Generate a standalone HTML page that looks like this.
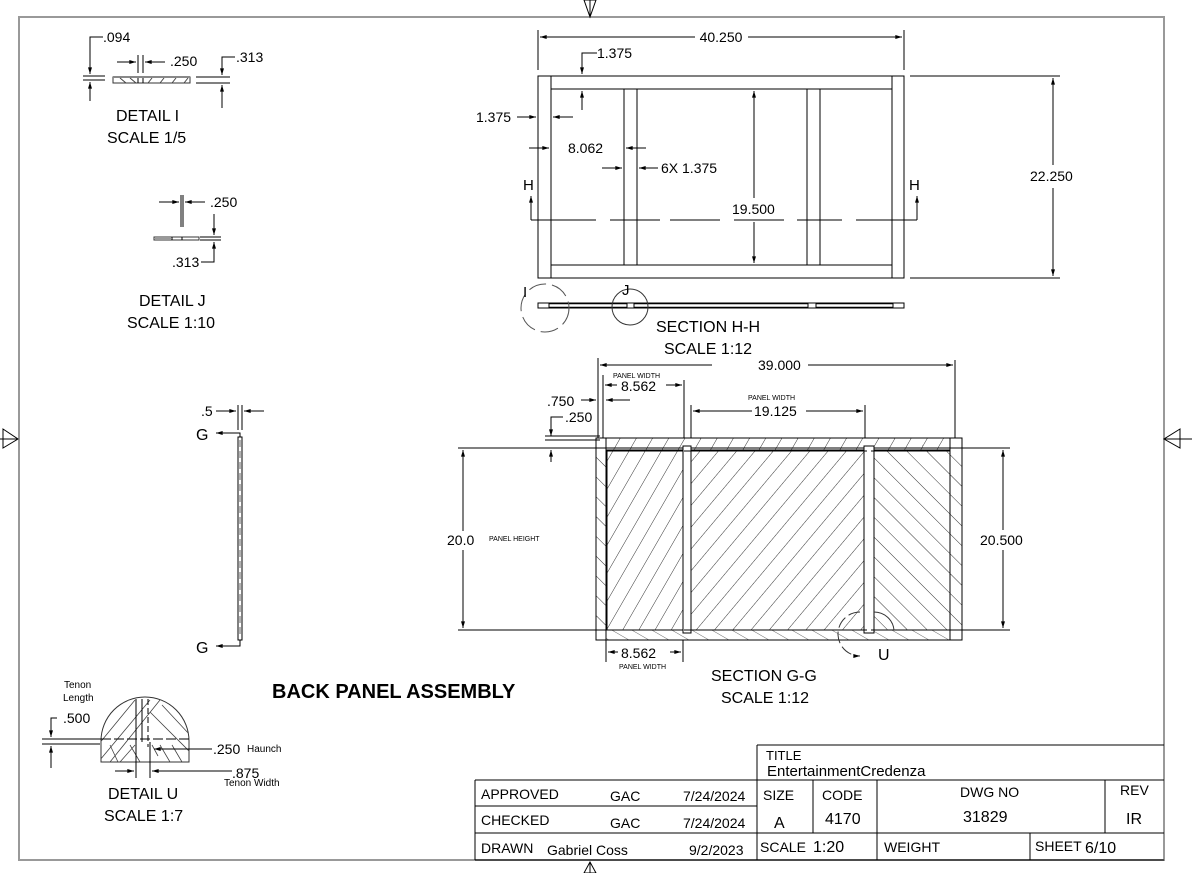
<!DOCTYPE html>
<html><head><meta charset="utf-8"><style>
html,body{margin:0;padding:0;background:#fff;}
svg{display:block;font-family:"Liberation Sans",sans-serif;}
</style></head><body>
<svg width="1193" height="873" viewBox="0 0 1193 873" xmlns="http://www.w3.org/2000/svg">
<defs>
<marker id="a" viewBox="0 0 10 6" refX="10" refY="3" markerWidth="10" markerHeight="4" orient="auto-start-reverse" markerUnits="userSpaceOnUse"><path d="M0,0L10,3L0,6z" fill="#000"/></marker>
<pattern id="h1" width="14" height="14" patternUnits="userSpaceOnUse" patternTransform="rotate(30)"><line x1="0" y1="0" x2="0" y2="14" stroke="#333" stroke-width="1"/></pattern>
<pattern id="h2" width="14" height="14" patternUnits="userSpaceOnUse" patternTransform="rotate(40)"><line x1="0" y1="0" x2="0" y2="14" stroke="#333" stroke-width="1"/></pattern>
<pattern id="h3" width="14" height="14" patternUnits="userSpaceOnUse" patternTransform="rotate(-45)"><line x1="0" y1="0" x2="0" y2="14" stroke="#333" stroke-width="1"/></pattern>
<pattern id="h5" width="10" height="10" patternUnits="userSpaceOnUse" patternTransform="rotate(-60)"><line x1="0" y1="0" x2="0" y2="10" stroke="#444" stroke-width="0.8"/></pattern>
</defs>
<g fill="none" stroke="#000" stroke-width="1">
<rect x="19" y="17" width="1145" height="843" stroke="#999" stroke-width="2"/>
<path d="M584,0 L596,0 L590,17 Z M590,0 V17"/>
<path d="M3,429 L18,439 L3,448 Z M0,439 H18"/>
<path d="M1180,429 L1164,439 L1180,448 Z M1164,439 H1192"/>
<path d="M584,873 L596,873 L590,862 Z M590,862 V873"/>

<rect x="538" y="76" width="366" height="202"/>
<line x1="551" y1="76" x2="551" y2="278"/>
<line x1="892" y1="76" x2="892" y2="278"/>
<line x1="551" y1="89" x2="892" y2="89"/>
<line x1="551" y1="265" x2="892" y2="265"/>
<line x1="624" y1="89" x2="624" y2="265"/><line x1="637" y1="89" x2="637" y2="265"/>
<line x1="807" y1="89" x2="807" y2="265"/><line x1="820" y1="89" x2="820" y2="265"/>
<line x1="538" y1="30" x2="538" y2="70"/><line x1="904" y1="30" x2="904" y2="70"/>
<line x1="540" y1="37" x2="695" y2="37" marker-start="url(#a)"/><line x1="748" y1="37" x2="902" y2="37" marker-end="url(#a)"/>
<path d="M597,53 H582 V74" marker-end="url(#a)"/><line x1="582" y1="110" x2="582" y2="91" marker-end="url(#a)"/>
<line x1="517" y1="117" x2="536" y2="117" marker-end="url(#a)"/><line x1="573" y1="117" x2="553" y2="117" marker-end="url(#a)"/>
<line x1="529" y1="148" x2="549" y2="148" marker-end="url(#a)"/><line x1="646" y1="148" x2="626" y2="148" marker-end="url(#a)"/>
<line x1="602" y1="168" x2="622" y2="168" marker-end="url(#a)"/><line x1="658" y1="168" x2="639" y2="168" marker-end="url(#a)"/>
<line x1="754" y1="198" x2="754" y2="91" marker-end="url(#a)"/><line x1="754" y1="222" x2="754" y2="263" marker-end="url(#a)"/>
<line x1="910" y1="76" x2="1060" y2="76"/><line x1="910" y1="278" x2="1060" y2="278"/>
<line x1="1053" y1="165" x2="1053" y2="78" marker-end="url(#a)"/><line x1="1053" y1="188" x2="1053" y2="276" marker-end="url(#a)"/>
<path d="M531,220 H596 M610,220 H660 M670,220 H720 M734,220 H784 M797,220 H842 M856,220 H917"/>
<line x1="531" y1="220" x2="531" y2="196" marker-end="url(#a)"/><line x1="917" y1="220" x2="917" y2="196" marker-end="url(#a)"/>

<rect x="538" y="303" width="366" height="5"/>
<line x1="549" y1="303" x2="549" y2="308"/><line x1="627" y1="303" x2="627" y2="308"/><line x1="634" y1="303" x2="634" y2="308"/>
<line x1="808" y1="303" x2="808" y2="308"/><line x1="816" y1="303" x2="816" y2="308"/><line x1="893" y1="303" x2="893" y2="308"/>
<path d="M549,303.5 H627 M549,307.5 H627 M634,303.5 H808 M634,307.5 H808 M816,303.5 H893 M816,307.5 H893" stroke-width="1.5"/>
<circle cx="545" cy="308" r="24" stroke="#555" stroke-dasharray="18,6"/>
<circle cx="630" cy="307" r="18" stroke="#333"/>

<rect x="596" y="448" width="10" height="182" fill="url(#h3)"/>
<rect x="950" y="448" width="12" height="182" fill="url(#h3)"/>
<rect x="606" y="438" width="344" height="12" fill="url(#h1)"/>
<rect x="606" y="630" width="344" height="10" fill="url(#h5)"/>
<rect x="607" y="451" width="76" height="179" fill="url(#h1)"/>
<rect x="691" y="451" width="173" height="179" fill="url(#h2)"/>
<rect x="874" y="451" width="76" height="179" fill="url(#h3)"/>
<rect x="596" y="438" width="366" height="202"/>
<line x1="596" y1="448" x2="962" y2="448"/><line x1="596" y1="630" x2="962" y2="630"/>
<line x1="606" y1="438" x2="606" y2="640"/><line x1="950" y1="438" x2="950" y2="640"/>
<rect x="683" y="446" width="8" height="187" fill="#fff"/><rect x="864" y="446" width="10" height="187" fill="#fff"/>
<rect x="607" y="451" width="343" height="179" stroke-dasharray="7,4"/>
<line x1="691" y1="451" x2="691" y2="630" stroke-dasharray="7,4"/><line x1="864" y1="451" x2="864" y2="630" stroke-dasharray="7,4"/>
<line x1="458" y1="448" x2="596" y2="448"/><line x1="458" y1="630" x2="596" y2="630"/>
<line x1="463" y1="531" x2="463" y2="450" marker-end="url(#a)"/><line x1="463" y1="550" x2="463" y2="628" marker-end="url(#a)"/>
<line x1="962" y1="448" x2="1010" y2="448"/><line x1="962" y1="630" x2="1010" y2="630"/>
<line x1="1003" y1="530" x2="1003" y2="450" marker-end="url(#a)"/><line x1="1003" y1="550" x2="1003" y2="628" marker-end="url(#a)"/>
<line x1="598" y1="358" x2="598" y2="438"/><line x1="955" y1="360" x2="955" y2="438"/>
<line x1="712" y1="365" x2="600" y2="365" marker-end="url(#a)"/><line x1="808" y1="365" x2="953" y2="365" marker-end="url(#a)"/>
<line x1="603" y1="375" x2="603" y2="438"/><line x1="684" y1="380" x2="684" y2="438"/>
<line x1="617" y1="385" x2="605" y2="385" marker-end="url(#a)"/><line x1="666" y1="385" x2="682" y2="385" marker-end="url(#a)"/>
<line x1="581" y1="400" x2="596" y2="400" marker-end="url(#a)"/><line x1="630" y1="400" x2="606" y2="400" marker-end="url(#a)"/>
<line x1="691" y1="405" x2="691" y2="438"/><line x1="865" y1="405" x2="865" y2="438"/>
<line x1="752" y1="411" x2="693" y2="411" marker-end="url(#a)"/><line x1="806" y1="411" x2="863" y2="411" marker-end="url(#a)"/>
<path d="M563,417 H551 V436" marker-end="url(#a)"/><line x1="551" y1="462" x2="551" y2="450" marker-end="url(#a)"/>
<line x1="545" y1="436" x2="600" y2="436"/><line x1="545" y1="440" x2="600" y2="440"/>
<line x1="606" y1="640" x2="606" y2="662"/><line x1="683" y1="640" x2="683" y2="662"/>
<line x1="618" y1="652" x2="608" y2="652" marker-end="url(#a)"/><line x1="670" y1="652" x2="681" y2="652" marker-end="url(#a)"/>
<path d="M860,612 A22,22 0 0 0 860,656" stroke="#333" stroke-dasharray="12,4" marker-end="url(#a)"/>
<path d="M874,612 A20,20 0 0 1 894,630" stroke="#333"/>

<rect x="238" y="437" width="4" height="203"/>
<line x1="240" y1="440" x2="240" y2="637" stroke-dasharray="7,4" stroke-width="0.6"/>
<line x1="238" y1="405" x2="238" y2="430"/><line x1="242" y1="405" x2="242" y2="430"/>
<line x1="216" y1="411" x2="236" y2="411" marker-end="url(#a)"/><line x1="264" y1="411" x2="244" y2="411" marker-end="url(#a)"/>
<path d="M240,437 V433 H216" marker-end="url(#a)"/><path d="M240,640 V646 H216" marker-end="url(#a)"/>

<rect x="113" y="77" width="77" height="6" stroke="#333"/>
<line x1="138" y1="77" x2="138" y2="83"/><line x1="143" y1="77" x2="143" y2="83"/>
<line x1="113" y1="77" x2="190" y2="77" stroke="#888" stroke-width="2"/>
<path d="M120,78 L126,83 M130,78 L136,83 M148,83 L152,78 M160,83 L164,78 M172,83 L176,78 M184,83 L188,78" stroke="#444"/>
<line x1="83" y1="76" x2="105" y2="76"/><line x1="83" y1="80" x2="105" y2="80"/>
<path d="M103,37 H90 V74" marker-end="url(#a)"/><line x1="90" y1="101" x2="90" y2="82" marker-end="url(#a)"/>
<line x1="138" y1="55" x2="138" y2="73"/><line x1="143" y1="55" x2="143" y2="73"/>
<line x1="117" y1="62" x2="136" y2="62" marker-end="url(#a)"/><line x1="165" y1="62" x2="145" y2="62" marker-end="url(#a)"/>
<line x1="196" y1="77" x2="230" y2="77"/><line x1="196" y1="83" x2="230" y2="83"/>
<path d="M235,57 H222 V75" marker-end="url(#a)"/><line x1="222" y1="108" x2="222" y2="85" marker-end="url(#a)"/>

<rect x="154" y="237" width="45" height="3" stroke="#333"/>
<rect x="155" y="238" width="16" height="2" fill="#999" stroke="none"/>
<line x1="172" y1="237" x2="172" y2="240"/><line x1="182" y1="237" x2="182" y2="240"/>
<line x1="200" y1="237" x2="221" y2="237"/><line x1="200" y1="240" x2="221" y2="240"/>
<line x1="181" y1="195" x2="181" y2="227"/><line x1="183" y1="195" x2="183" y2="227"/>
<line x1="159" y1="202" x2="179" y2="202" marker-end="url(#a)"/><line x1="205" y1="202" x2="185" y2="202" marker-end="url(#a)"/>
<line x1="214" y1="214" x2="214" y2="235" marker-end="url(#a)"/><path d="M201,262 H214 V242" marker-end="url(#a)"/>

<path d="M101,741 A44,44 0 0 1 189,741 V762 H101 Z" stroke="#333"/>
<clipPath id="cu"><path d="M101,741 A44,44 0 0 1 189,741 V762 H101 Z"/></clipPath>
<g clip-path="url(#cu)" stroke="#444" stroke-width="0.8">
<path d="M100,760 L150,700 M110,762 L160,700 M120,762 L135,745 M98,745 L135,700 M175,705 L190,720 M162,705 L190,735 M150,712 L190,752 M110,745 L118,762 M130,745 L140,762 M160,745 L170,762 M172,745 L182,762 M152,745 L158,756"/>
</g>
<line x1="136" y1="699" x2="136" y2="747"/><line x1="148" y1="699" x2="148" y2="747" stroke-dasharray="6,3"/>
<line x1="142" y1="699" x2="142" y2="742"/>
<line x1="101" y1="739" x2="189" y2="739" stroke-dasharray="10,3"/>
<line x1="42" y1="739" x2="101" y2="739"/><line x1="42" y1="744" x2="100" y2="744"/>
<path d="M57,718 H51 V737" marker-end="url(#a)"/><line x1="51" y1="768" x2="51" y2="746" marker-end="url(#a)"/>
<line x1="136" y1="742" x2="136" y2="778"/><line x1="150" y1="742" x2="150" y2="778"/>
<line x1="115" y1="771" x2="134" y2="771" marker-end="url(#a)"/><line x1="232" y1="771" x2="152" y2="771" marker-end="url(#a)"/>
<line x1="212" y1="749" x2="154" y2="749" marker-end="url(#a)"/>

<path d="M757,745 H1164 M757,745 V860 M475,780 H1164 M475,806 H757 M475,833 H1164 M475,860 H757 M475,780 V860 M813,780 V833 M877,780 V860 M1105,780 V833 M1030,833 V860 M757,860 H1164"/>
</g>
<g font-size="14" fill="#000">
<text x="721" y="42" text-anchor="middle">40.250</text>
<text x="597" y="58">1.375</text>
<text x="476" y="122">1.375</text>
<text x="568" y="153">8.062</text>
<text x="661" y="173">6X 1.375</text>
<text x="732" y="214">19.500</text>
<text x="1030" y="181">22.250</text>
<text x="523" y="190" font-size="15">H</text>
<text x="909" y="190" font-size="15">H</text>
<text x="523" y="297" font-size="15">I</text>
<text x="622" y="295" font-size="15">J</text>
<text x="656" y="332" font-size="16">SECTION H-H</text>
<text x="664" y="354" font-size="16">SCALE 1:12</text>
<text x="758" y="370">39.000</text>
<text x="613" y="378" font-size="7">PANEL WIDTH</text>
<text x="621" y="391">8.562</text>
<text x="748" y="400" font-size="7">PANEL WIDTH</text>
<text x="754" y="416">19.125</text>
<text x="547" y="406">.750</text>
<text x="565" y="422">.250</text>
<text x="447" y="545">20.0</text>
<text x="489" y="541" font-size="7">PANEL HEIGHT</text>
<text x="980" y="545">20.500</text>
<text x="621" y="658">8.562</text>
<text x="619" y="669" font-size="7">PANEL WIDTH</text>
<text x="878" y="660" font-size="16">U</text>
<text x="711" y="681" font-size="16">SECTION G-G</text>
<text x="721" y="703" font-size="16">SCALE 1:12</text>
<text x="272" y="698" font-size="20" font-weight="bold">BACK PANEL ASSEMBLY</text>
<text x="103" y="42">.094</text>
<text x="170" y="66">.250</text>
<text x="236" y="62">.313</text>
<text x="116" y="121" font-size="16">DETAIL I</text>
<text x="107" y="143" font-size="16">SCALE 1/5</text>
<text x="210" y="207">.250</text>
<text x="172" y="267">.313</text>
<text x="139" y="306" font-size="16">DETAIL J</text>
<text x="127" y="328" font-size="16">SCALE 1:10</text>
<text x="201" y="416">.5</text>
<text x="196" y="440" font-size="16">G</text>
<text x="196" y="653" font-size="16">G</text>
<text x="64" y="688" font-size="10">Tenon</text>
<text x="63" y="701" font-size="10">Length</text>
<text x="63" y="723">.500</text>
<text x="213" y="754">.250</text><text x="247" y="752" font-size="10">Haunch</text>
<text x="232" y="778">.875</text><text x="224" y="786" font-size="10">Tenon Width</text>
<text x="108" y="799" font-size="16">DETAIL U</text>
<text x="104" y="821" font-size="16">SCALE 1:7</text>
<text x="766" y="760" font-size="13">TITLE</text>
<text x="767" y="776" font-size="15">EntertainmentCredenza</text>
<text x="481" y="799">APPROVED</text><text x="610" y="801">GAC</text><text x="683" y="801">7/24/2024</text>
<text x="481" y="825">CHECKED</text><text x="610" y="828">GAC</text><text x="683" y="828">7/24/2024</text>
<text x="481" y="853">DRAWN</text><text x="547" y="855">Gabriel Coss</text><text x="689" y="855">9/2/2023</text>
<text x="763" y="800">SIZE</text><text x="822" y="800">CODE</text><text x="960" y="797">DWG NO</text><text x="1120" y="795">REV</text>
<text x="774" y="828" font-size="16">A</text><text x="825" y="824" font-size="16">4170</text><text x="963" y="822" font-size="16">31829</text><text x="1126" y="824" font-size="16">IR</text>
<text x="760" y="852">SCALE</text><text x="813" y="852" font-size="16">1:20</text><text x="884" y="852">WEIGHT</text><text x="1035" y="851">SHEET</text><text x="1085" y="853" font-size="16">6/10</text>
</g>
</svg>
</body></html>
